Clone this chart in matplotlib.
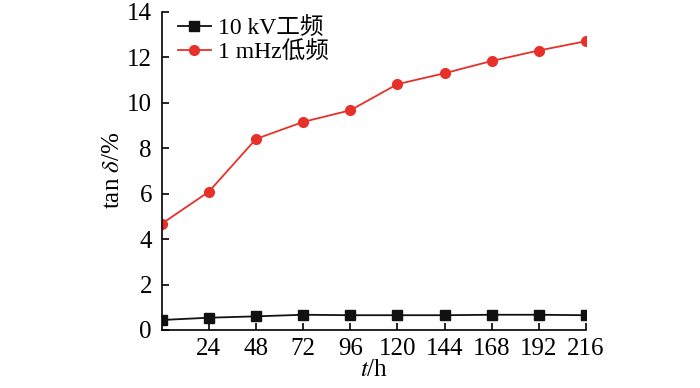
import matplotlib
matplotlib.use('Agg')
import matplotlib.pyplot as plt

# data
hours = [0, 24, 48, 72, 96, 120, 144, 168, 192, 216]
tan_10kv = [0.44, 0.54, 0.60, 0.67, 0.65, 0.65, 0.65, 0.67, 0.67, 0.65]
tan_1mhz = [4.67, 6.08, 8.40, 9.15, 9.66, 10.81, 11.29, 11.83, 12.29, 12.70]
x_ticks = [24, 48, 72, 96, 120, 144, 168, 192, 216]
y_ticks = [0, 2, 4, 6, 8, 10, 12, 14]
labels = ['10 kV工频', '1 mHz低频']

plt.rcParams['font.family'] = ['Liberation Serif', 'Noto Sans CJK SC']
plt.rcParams['mathtext.fontset'] = 'stix'

fig = plt.figure(figsize=(7, 3.88), dpi=100)
ax = fig.add_axes([0.231, 0.1495, 0.606, 0.8205])

ax.plot(hours, tan_10kv, '-s', color='#111111', lw=1.3, ms=7, label=labels[0])
ax.plot(hours, tan_1mhz, '-o', color='#e8302a', lw=1.3, ms=7, label=labels[1])

ax.set_xlim(0, 216)
ax.set_ylim(0, 14)
ax.set_xticks(x_ticks)
ax.set_yticks(y_ticks)
ax.tick_params(direction='in', length=5, width=1.2, labelsize=18)
ax.tick_params(axis='x', pad=6)
ax.tick_params(axis='y', pad=7)
for s in ['top', 'right']:
    ax.spines[s].set_visible(False)
for s in ['left', 'bottom']:
    ax.spines[s].set_linewidth(1.2)

ax.set_xlabel(r'$t$/h', fontsize=18, labelpad=-1)
ax.set_ylabel(r'tan $\delta$/%', fontsize=18, labelpad=2)

ax.legend(loc='upper left', frameon=False, fontsize=17, handlelength=1.4,
          handletextpad=0.3, labelspacing=0.1, borderaxespad=0.1,
          bbox_to_anchor=(0.01, 1.02))

fig.savefig('out.png', dpi=100)
